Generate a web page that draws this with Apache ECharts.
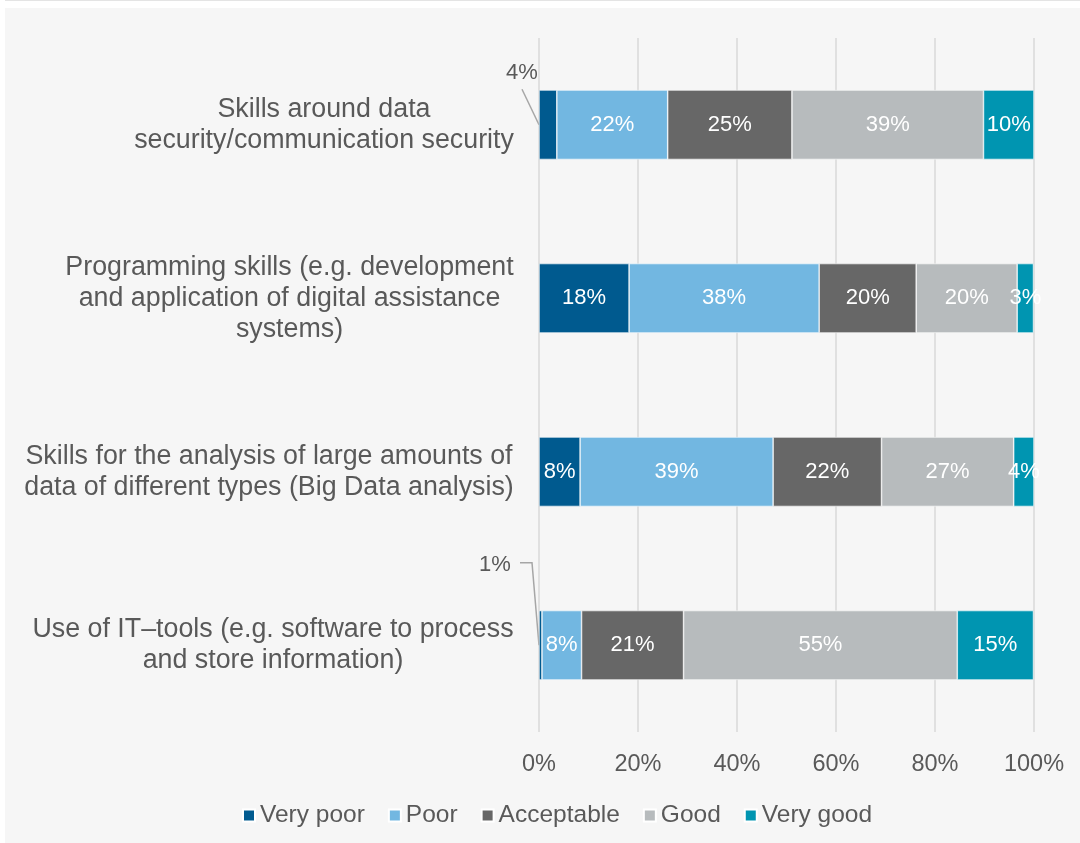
<!DOCTYPE html>
<html>
<head>
<meta charset="utf-8">
<script src="https://cdn.jsdelivr.net/npm/echarts@6/dist/echarts.min.js"></script>
<style>
  html, body { margin: 0; padding: 0; background: #ffffff; }
  #topline { position: absolute; left: 5px; top: 0; width: 1075px; height: 1px; background: #e4e4e4; }
  #chart { position: absolute; left: 5px; top: 8px; width: 1075px; height: 835px; background: #f6f6f6; }
</style>
</head>
<body>
<div id="topline"></div>
<div id="chart"></div>
<script>
// Skill areas, listed top to bottom
const categories = [
  'Skills around data\nsecurity/communication security',
  'Programming skills (e.g. development\nand application of digital assistance\nsystems)',
  'Skills for the analysis of large amounts of\ndata of different types (Big Data analysis)',
  'Use of IT\u2013tools (e.g. software to process\nand store information)'
];

// Share of answers per rating, in percent
const veryPoor   = [3.6, 18.2, 8.3, 0.6];
const poor       = [22.4, 38.4, 39.0, 8.0];
const acceptable = [25.1, 19.6, 21.9, 20.6];
const good       = [38.7, 20.4, 26.7, 55.3];
const veryGood   = [10.2, 3.3, 4.1, 15.4];

const seriesNames = ['Very poor', 'Poor', 'Acceptable', 'Good', 'Very good'];
const xTicks = [0, 20, 40, 60, 80, 100];

const colors = ['#005a8f', '#72b7e1', '#676767', '#b7bbbd', '#0095b1'];
const textGray = '#595959';
const catFont = '"Liberation Sans", Arial, sans-serif';
const catSize = 26.8;

// Outside labels of very small segments: label offset from the segment's top-left
// corner, and leader-line points relative to the middle of the segment's left edge
const outsideLabels = {
  0: { label: [-17, -17], line: [[-17, -35.5], [0, 0]] },
  3: { label: [-44, -46], line: [[-19, -82.5], [-7, -82.5], [0, 0]] }
};

// Width of each category block, so lines centre within a right-aligned block
const ctx = document.createElement('canvas').getContext('2d');
ctx.font = catSize + 'px ' + catFont;
const rich = {};
categories.forEach((c, i) => {
  const w = Math.max(...c.split('\n').map(l => ctx.measureText(l).width));
  rich['c' + i] = {
    width: Math.ceil(w) + 2, align: 'center', fontSize: catSize,
    fontFamily: catFont, color: textGray, lineHeight: 31
  };
});

const pct = v => Math.round(v) + '%';

function makeSeries(name, values, idx) {
  const data = values.map(v => {
    if (idx === 0 && v < 5) {
      return { value: v, label: { color: textGray, position: 'left' } };
    }
    return v;
  });
  const s = {
    name: name,
    type: 'bar',
    stack: 'total',
    barWidth: '40%',
    itemStyle: { color: colors[idx], borderColor: '#ffffff', borderWidth: 0.6 },
    label: {
      show: true,
      position: 'inside',
      color: '#ffffff',
      fontSize: 22,
      fontFamily: '"Liberation Sans", Arial, sans-serif',
      formatter: p => pct(p.value)
    },
    emphasis: { disabled: true },
    data: data
  };
  if (idx === 0) {
    s.labelLayout = function (params) {
      const o = outsideLabels[params.dataIndex];
      if (!o) return {};
      return {
        x: params.rect.x + o.label[0],
        y: params.rect.y + o.label[1],
        align: 'center',
        verticalAlign: 'middle'
      };
    };
  }
  return s;
}

const allValues = [veryPoor, poor, acceptable, good, veryGood];

const chart = echarts.init(document.getElementById('chart'), null, { renderer: 'canvas' });
chart.setOption({
  backgroundColor: '#f6f6f6',
  animation: false,
  color: colors,
  grid: { left: 534, right: 46, top: 30, bottom: 111, containLabel: false },
  xAxis: {
    type: 'value',
    min: xTicks[0],
    max: xTicks[xTicks.length - 1],
    interval: xTicks[1] - xTicks[0],
    axisLine: { show: false },
    axisTick: { show: false },
    splitLine: { show: true, lineStyle: { color: '#d9d9d9', width: 1.5 } },
    axisLabel: {
      formatter: v => v + '%',
      color: textGray,
      fontSize: 23.5,
      fontFamily: catFont,
      margin: 21
    }
  },
  yAxis: {
    type: 'category',
    inverse: true,
    data: categories,
    axisLine: { show: false },
    axisTick: { show: false },
    splitLine: { show: false },
    axisLabel: {
      margin: 24,
      formatter: (value, index) => value.split('\n').map(l => '{c' + index + '|' + l + '}').join('\n'),
      rich: rich
    }
  },
  legend: {
    data: seriesNames,
    left: 237,
    top: 795,
    padding: 0,
    icon: 'rect',
    itemWidth: 12,
    itemHeight: 12,
    itemGap: 23,
    textStyle: { color: textGray, fontSize: 24.5, fontFamily: catFont },
    selectedMode: false
  },
  series: seriesNames.map((n, i) => makeSeries(n, allValues[i], i))
});

// Leader lines from the outside labels to their segments, placed through the axes
const lines = Object.keys(outsideLabels).map(k => {
  const i = Number(k);
  const anchor = chart.convertToPixel({ xAxisIndex: 0, yAxisIndex: 0 }, [0, i]);
  return {
    type: 'polyline',
    silent: true,
    shape: { points: outsideLabels[k].line.map(p => [anchor[0] + p[0], anchor[1] + p[1]]) },
    style: { stroke: '#a6a6a6', lineWidth: 1.5, fill: null }
  };
});
chart.setOption({ graphic: lines });
</script>
</body>
</html>
